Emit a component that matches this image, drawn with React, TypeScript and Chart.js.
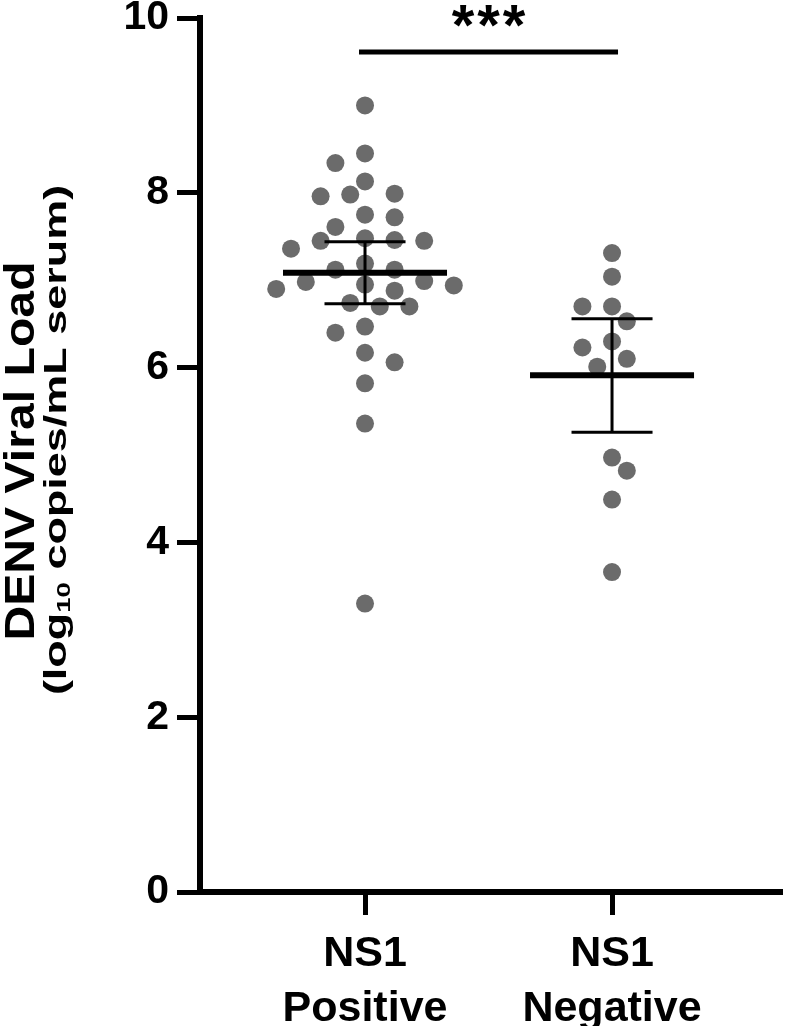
import React, { useEffect, useRef } from "react";
import { Chart, registerables } from "chart.js";

Chart.register(...registerables);

// ---- data ----
const categories: string[][] = [["NS1", "Positive"], ["NS1", "Negative"]];
const ns1Positive: number[] = [
  9.0, 8.34, 8.45, 8.13, 7.96, 7.98, 7.99, 7.75, 7.72, 7.61,
  7.45, 7.48, 7.46, 7.45, 7.36, 7.19, 7.12, 7.12, 6.94, 6.98,
  6.95, 6.9, 6.99, 6.88, 6.7, 6.74, 6.7, 6.47, 6.4, 6.17,
  6.06, 5.82, 5.36, 3.3,
];
const ns1Negative: number[] = [
  7.31, 7.04, 6.7, 6.7, 6.53, 6.3, 6.23, 6.1, 6.01, 4.97, 4.82, 4.49, 3.66,
];
const ciLower: number[] = [6.73, 5.26];
const ciUpper: number[] = [7.44, 6.56];
const yTicks: number[] = [0, 2, 4, 6, 8, 10];
const sigGroups: number[] = [0, 1];
const sigLevel = 9.61;
const sigLabel = "***";
const titleMain = "DENV Viral Load";
const titleSubParts: string[] = ["(log", "10", " copies/mL serum)"];

const FONT = "'Liberation Sans', Arial, Helvetica, sans-serif";
const DOT = "#6b6b6b";

// column-based swarm layout (like a scatter dot plot), computed in pixel space
function swarm(chart: any) {
  const xs = chart.scales.x;
  const ys = chart.scales.y;
  const ppu = xs.getPixelForValue(1) - xs.getPixelForValue(0);
  const step = 14.8;
  const dMin = 19.5;
  const groups = [ns1Positive, ns1Negative];
  groups.forEach((vals, gi) => {
    const placed: { x: number; y: number }[] = [];
    const out: number[] = new Array(vals.length).fill(0);
    const order = vals.map((_, i) => i).sort((a, b) => vals[b] - vals[a]);
    let left = 0;
    let right = 0;
    for (const i of order) {
      const py = ys.getPixelForValue(vals[i]);
      const free = (cx: number) =>
        placed.every((p) => (p.x - cx) * (p.x - cx) + (p.y - py) * (p.y - py) >= dMin * dMin);
      let best = 0;
      for (let k = 0; k < 40; k++) {
        if (k === 0) {
          if (free(0)) { best = 0; break; }
          continue;
        }
        const l = free(-k * step);
        const r = free(k * step);
        if (l && r) { best = left <= right ? -k * step : k * step; break; }
        if (l) { best = -k * step; break; }
        if (r) { best = k * step; break; }
      }
      if (best < 0) left++;
      if (best > 0) right++;
      placed.push({ x: best, y: py });
      out[i] = best;
    }
    chart.data.datasets[gi].data = vals.map((v, i) => ({ x: gi + out[i] / ppu, y: v }));
  });
}

const overlayPlugin = {
  id: "overlay",
  afterDatasetsDraw(chart: any) {
    const ctx = chart.ctx;
    const xs = chart.scales.x;
    const ys = chart.scales.y;
    const ppu = xs.getPixelForValue(1) - xs.getPixelForValue(0);
    const groups = [ns1Positive, ns1Negative];
    ctx.save();
    ctx.strokeStyle = "#000";
    groups.forEach((vals, gi) => {
      const mean = vals.reduce((s, v) => s + v, 0) / vals.length;
      const cx = xs.getPixelForValue(gi);
      const yTop = ys.getPixelForValue(ciUpper[gi]);
      const yBot = ys.getPixelForValue(ciLower[gi]);
      const yM = ys.getPixelForValue(mean);
      const capW = 0.164 * ppu;
      const meanW = 0.332 * ppu;
      ctx.lineWidth = 3;
      ctx.beginPath();
      ctx.moveTo(cx, yTop);
      ctx.lineTo(cx, yBot);
      ctx.moveTo(cx - capW, yTop);
      ctx.lineTo(cx + capW, yTop);
      ctx.moveTo(cx - capW, yBot);
      ctx.lineTo(cx + capW, yBot);
      ctx.stroke();
      ctx.lineWidth = 6;
      ctx.beginPath();
      ctx.moveTo(cx - meanW, yM);
      ctx.lineTo(cx + meanW, yM);
      ctx.stroke();
    });
    // significance bar
    const x1 = xs.getPixelForValue(sigGroups[0]) - 6;
    const x2 = xs.getPixelForValue(sigGroups[1]) + 6;
    const yb = ys.getPixelForValue(sigLevel);
    ctx.lineWidth = 5;
    ctx.beginPath();
    ctx.moveTo(x1, yb);
    ctx.lineTo(x2, yb);
    ctx.stroke();
    ctx.fillStyle = "#000";
    ctx.font = `bold 58px ${FONT}`;
    (ctx as any).letterSpacing = "3px";
    ctx.textAlign = "left";
    ctx.textBaseline = "alphabetic";
    const m = ctx.measureText(sigLabel);
    const w = m.width - 3;
    const asc = m.actualBoundingBoxAscent;
    const desc = m.actualBoundingBoxDescent;
    const yc = ys.getPixelForValue(sigLevel + 0.41);
    ctx.fillText(sigLabel, (x1 + x2) / 2 - w / 2, yc + (asc - desc) / 2);
    (ctx as any).letterSpacing = "0px";
    ctx.restore();
  },
  afterDraw(chart: any) {
    const ctx = chart.ctx;
    const ys = chart.scales.y;
    const cy = (ys.top + ys.bottom) / 2;
    ctx.save();
    ctx.fillStyle = "#000";
    // line 1
    ctx.save();
    ctx.translate(22, cy - 4);
    ctx.rotate(-Math.PI / 2);
    ctx.scale(1.12, 1);
    ctx.font = `bold 43px ${FONT}`;
    ctx.textAlign = "center";
    ctx.textBaseline = "middle";
    ctx.fillText(titleMain, 0, 0);
    ctx.restore();
    // line 2 with subscript
    ctx.save();
    ctx.translate(57, cy - 15);
    ctx.rotate(-Math.PI / 2);
    ctx.scale(1.45, 1);
    ctx.textBaseline = "middle";
    ctx.textAlign = "left";
    const big = `bold 31px ${FONT}`;
    const small = `bold 19px ${FONT}`;
    ctx.font = big;
    const w0 = ctx.measureText(titleSubParts[0]).width;
    const w2 = ctx.measureText(titleSubParts[2]).width;
    ctx.font = small;
    const w1 = ctx.measureText(titleSubParts[1]).width;
    let x = -(w0 + w1 + w2) / 2;
    ctx.font = big;
    ctx.fillText(titleSubParts[0], x, 0);
    x += w0;
    ctx.font = small;
    ctx.fillText(titleSubParts[1], x, 8);
    x += w1;
    ctx.font = big;
    ctx.fillText(titleSubParts[2], x, 0);
    ctx.restore();
    ctx.restore();
  },
};

export default function App() {
  const ref = useRef<HTMLCanvasElement | null>(null);
  useEffect(() => {
    document.body.style.margin = "0";
    const canvas = ref.current;
    if (!canvas) return;
    const chart: any = new Chart(canvas, {
      type: "scatter",
      data: {
        datasets: [
          {
            label: "NS1 Positive",
            data: ns1Positive.map((v) => ({ x: 0, y: v })),
            backgroundColor: DOT,
            borderWidth: 0,
            pointRadius: 9,
          },
          {
            label: "NS1 Negative",
            data: ns1Negative.map((v) => ({ x: 1, y: v })),
            backgroundColor: DOT,
            borderWidth: 0,
            pointRadius: 9,
          },
        ],
      },
      options: {
        animation: false,
        responsive: false,
        events: [],
        layout: { padding: { top: 18, left: 0, right: 2, bottom: 0 } },
        plugins: { legend: { display: false }, tooltip: { enabled: false } },
        scales: {
          x: {
            type: "linear",
            min: -0.668,
            max: 1.68,
            afterBuildTicks: (s: any) => {
              s.ticks = categories.map((_, i) => ({ value: i }));
            },
            afterFit: (s: any) => {
              s.height = 134;
              s.paddingLeft = 0;
              s.paddingRight = 0;
            },
            ticks: {
              autoSkip: false,
              maxRotation: 0,
              color: "#000",
              padding: 12,
              font: { family: FONT, weight: "bold", size: 43, lineHeight: 1.28 },
              callback: (v: any) => categories[Math.round(Number(v))] || "",
            },
            grid: { display: true, drawOnChartArea: false, drawTicks: true, tickLength: 23, color: "#000", lineWidth: 5 },
            border: { display: true, color: "#000", width: 6 },
          },
          y: {
            min: 0,
            max: 10,
            afterBuildTicks: (s: any) => {
              s.ticks = yTicks.map((v) => ({ value: v }));
            },
            afterFit: (s: any) => {
              s.width = 200;
              s.paddingTop = 0;
              s.paddingBottom = 0;
            },
            ticks: {
              color: "#000",
              padding: 8,
              font: { family: FONT, weight: "bold", size: 41, lineHeight: 0.8 },
            },
            grid: { display: true, drawOnChartArea: false, drawTicks: true, tickLength: 23, color: "#000", lineWidth: 5 },
            border: { display: true, color: "#000", width: 6 },
          },
        },
      },
      plugins: [overlayPlugin],
    });
    swarm(chart);
    chart.update();
    return () => chart.destroy();
  }, []);
  return (
    <div style={{ width: 789, height: 1026, background: "#fff" }}>
      <canvas ref={ref} width={789} height={1026} style={{ display: "block" }} />
    </div>
  );
}
